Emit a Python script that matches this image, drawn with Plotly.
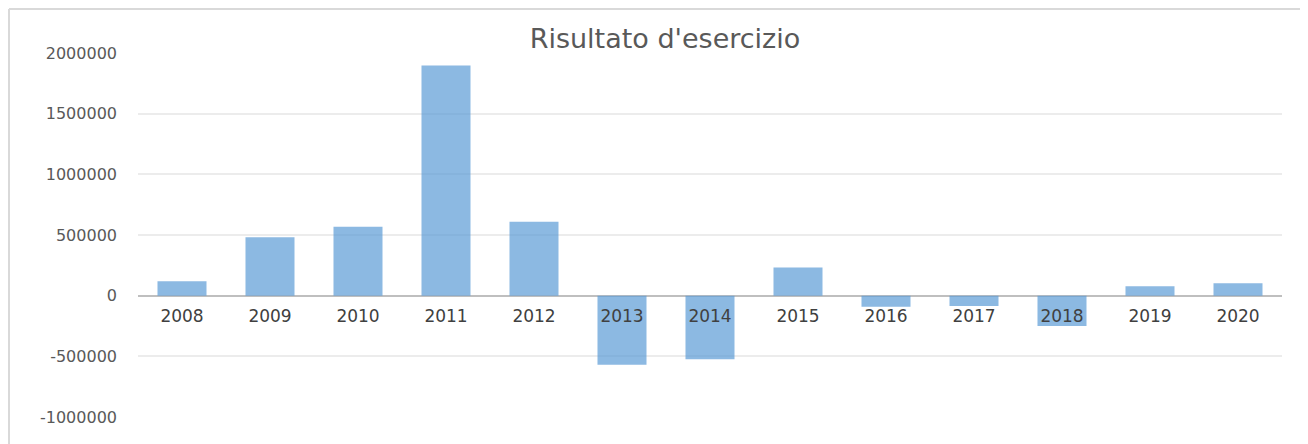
import plotly.graph_objects as go

# Data
years = ["2008", "2009", "2010", "2011", "2012", "2013", "2014",
         "2015", "2016", "2017", "2018", "2019", "2020"]
risultato = [118000, 481000, 569000, 1898000, 610000, -569000, -525000,
             233000, -91000, -85000, -250000, 77000, 102000]
y_ticks = [-1000000, -500000, 0, 500000, 1000000, 1500000, 2000000]
y_ticklabels = ["-1000000", "-500000", "0", "500000", "1000000", "1500000", "2000000"]
title_text = "Risultato d'esercizio"

# The page body has an 8px margin, so the figure is offset by 8px.
OFF = 8
W, H = 1308 - OFF, 444 - OFF
ML = 138 - OFF
MR = W - (1282 - OFF)
MT = 53 - OFF
MB = H - (417 - OFF)
PW, PH = W - ML - MR, H - MT - MB

def px_x(px):
    return (px - OFF - ML) / PW

def px_y(py):
    return (H - MB - (py - OFF)) / PH

fig = go.Figure()
fig.add_trace(go.Bar(
    x=years,
    y=risultato,
    marker=dict(color="rgba(91,155,213,0.7)", line=dict(width=0)),
    hoverinfo="x+y",
))

ymin, ymax = y_ticks[0], y_ticks[-1]

fig.update_layout(
    width=W, height=H,
    margin=dict(l=ML, r=MR, t=MT, b=MB),
    paper_bgcolor="white",
    plot_bgcolor="white",
    showlegend=False,
    bargap=0.443,
    title=dict(
        text=title_text,
        font=dict(family="DejaVu Sans", size=27, color="#595959"),
        x=(665 - OFF) / W, xanchor="center", xref="container",
        y=1 - (39 - OFF) / H, yanchor="middle", yref="container",
    ),
    xaxis=dict(
        type="category",
        anchor="free",
        position=(0 - ymin) / (ymax - ymin),
        showgrid=False,
        showline=False,
        ticks="",
        tickfont=dict(family="DejaVu Sans", size=17, color="#404040"),
        ticklabelstandoff=8,
        fixedrange=True,
    ),
    yaxis=dict(
        range=[ymin, ymax],
        tickvals=y_ticks,
        ticktext=y_ticklabels,
        showgrid=True,
        gridcolor="#ececec",
        gridwidth=1.5,
        zeroline=True,
        zerolinecolor="#bfbfbf",
        zerolinewidth=2,
        showline=False,
        ticks="",
        tickfont=dict(family="DejaVu Sans", size=16, color="#595959"),
        ticklabelstandoff=20,
        fixedrange=True,
    ),
    shapes=[
        dict(type="line", xref="paper", yref="paper",
             x0=px_x(9), x1=px_x(9), y0=px_y(9), y1=px_y(444 + 5),
             line=dict(color="#d9d9d9", width=2)),
        dict(type="line", xref="paper", yref="paper",
             x0=px_x(9), x1=px_x(1308 + 5), y0=px_y(9), y1=px_y(9),
             line=dict(color="#d9d9d9", width=2)),
    ],
)

fig.write_html("out.html")
